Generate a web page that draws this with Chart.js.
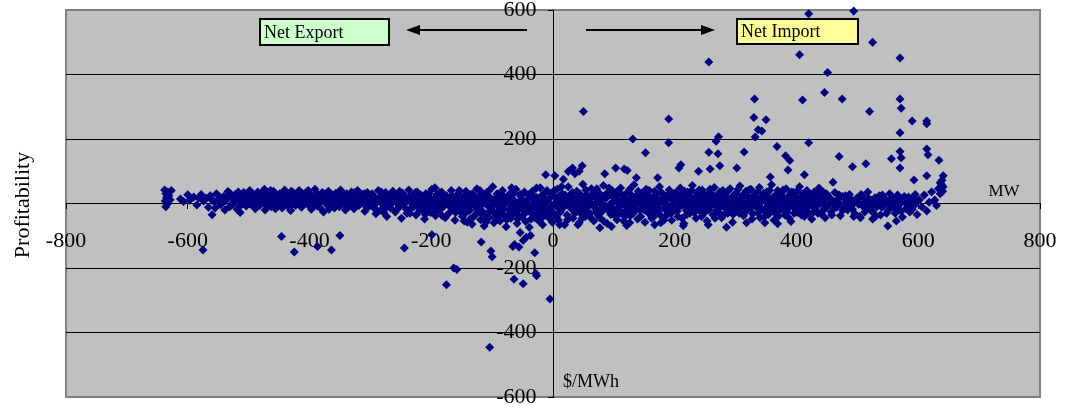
<!DOCTYPE html>
<html>
<head>
<meta charset="utf-8">
<script src="https://cdn.jsdelivr.net/npm/chart.js@4.4.1/dist/chart.umd.min.js"></script>
<style>
html,body{margin:0;padding:0;background:#fff;}
canvas{display:block;}
</style>
</head>
<body>
<canvas id="chart" width="1065" height="411"></canvas>
<script>
// -----------------------------
// DATA  [MW, $/MWh]
// -----------------------------

const xTicks = [-800,-600,-400,-200,0,200,400,600,800];
const yTicks = [-600,-400,-200,0,200,400,600];

// net export side, main band
const exportBand = [
[-638,42],[-636,30],[-635,18],[-637,8],[-634,-2],[-636,-10],[-633,36],[-631,24],[-629,12],[-627,40],
[-612,14],[-607,6],[-600,27],[-597,10],[-590,20],[-585,-5],[-582,18],[-578,28],[-574,8],[-570,16],
[-566,-12],[-563,24],[-557,6],[-553,30],[-549,14],[-546,-4],[-541,22],[-538,8],[-534,37],[-531,-10],
[-528,18],[-525,2],[-522,28],[-519,-18],[-516,12],[-511,20],[-508,34],[-505,4],
[-504,-8],[-502,26],[-500,12],[-498,40],[-497,-2],[-495,18],[-493,30],[-491,6],[-489,-16],[-487,22],
[-485,36],[-484,10],[-482,-6],[-480,28],[-478,16],[-476,2],[-474,44],[-473,-20],[-471,24],[-469,8],
[-467,32],[-465,14],[-463,-10],[-461,20],[-459,38],[-457,4],[-455,26],[-453,-4],[-451,16],[-449,30],
[-447,10],[-445,-14],[-443,22],[-441,42],[-439,0],[-437,18],[-435,28],[-433,6],[-431,-22],[-429,14],
[-427,34],[-425,20],[-423,-6],[-421,8],[-419,26],[-417,40],[-415,12],[-413,-12],[-411,2],[-409,24],
[-407,16],[-405,36],[-403,-2],[-401,10],[-399,30],[-397,-18],[-395,20],[-393,6],[-391,44],[-389,14],
[-387,-8],[-385,26],[-383,2],[-381,18],[-379,34],[-377,-26],[-375,10],[-373,22],[-371,-4],[-369,38],
[-367,12],[-365,28],[-363,0],[-361,16],[-359,-14],[-357,32],[-355,8],[-353,20],[-351,-10],[-349,42],
[-347,4],[-345,24],[-343,14],[-341,-20],[-339,30],[-337,10],[-335,-2],[-333,18],[-331,36],[-329,6],
[-327,-16],[-325,26],[-323,12],[-321,40],[-319,-6],[-317,20],[-315,2],[-313,28],[-311,16],[-309,-24],
[-307,8],[-305,34],[-303,22],[-301,-8],
[-299,10],[-297,30],[-295,-12],[-293,20],[-291,-32],[-289,4],[-287,40],[-285,16],[-283,-20],[-281,26],
[-279,-4],[-277,12],[-275,34],[-273,-40],[-271,8],[-269,22],[-267,-14],[-265,0],[-263,38],[-261,18],
[-259,-26],[-257,6],[-255,28],[-253,-8],[-251,14],[-249,-46],[-247,32],[-245,-2],[-243,20],[-241,-18],
[-239,10],[-237,42],[-235,-30],[-233,2],[-231,24],[-229,-10],[-227,16],[-225,-36],[-223,36],[-221,6],
[-219,-22],[-217,26],[-215,-4],[-213,12],[-211,-48],[-209,30],[-207,-14],[-205,4],[-203,20],[-201,-28],
[-199,44],[-197,-6],[-195,14],[-193,-38],[-191,28],[-189,0],[-187,-20],[-185,8],[-183,36],[-181,-12],
[-179,18],[-177,-44],[-175,24],[-173,-2],[-171,-30],[-169,10],[-167,40],[-165,-16],[-163,4],[-161,-52],
[-159,22],[-157,-8],[-155,32],[-153,-24],[-151,12],
[-149,-40],[-147,20],[-145,-10],[-143,38],[-141,-58],[-139,4],[-137,-22],[-135,28],[-133,-64],[-131,-4],
[-129,14],[-127,-34],[-125,46],[-123,-14],[-121,6],[-119,-50],[-117,24],[-115,-26],[-113,-70],[-111,10],
[-109,34],[-107,-8],[-105,-44],[-103,18],[-101,-18],[-99,52],[-97,-60],[-95,0],[-93,-30],[-91,26],
[-89,-12],[-87,-54],[-85,8],[-83,40],[-81,-36],[-79,-2],[-77,-72],[-75,16],[-73,-20],[-71,30],
[-69,-46],[-67,-6],[-65,12],[-63,-28],[-61,44],[-59,-62],[-57,2],[-55,-16],[-53,22],[-51,-40],
[-49,-8],[-47,36],[-45,-56],[-43,10],[-41,-24],[-39,-74],[-37,28],[-35,-4],[-33,-34],[-31,14],
[-29,-14],[-27,48],[-25,-50],[-23,4],[-21,-20],[-19,24],[-17,-66],[-15,-6],[-13,34],[-11,-30],
[-9,8],[-7,-44],[-5,18],[-3,-12],[-1,-58],
[-148,6],[-144,-30],[-140,18],[-136,-48],[-132,30],[-128,-6],[-124,-20],[-120,40],[-116,-2],[-112,-36],
[-108,20],[-104,-24],[-100,6],[-96,-42],[-92,30],[-88,-28],[-84,-4],[-80,20],[-76,-50],[-72,2],
[-68,-18],[-64,32],[-60,-10],[-56,-38],[-52,12],[-48,-22],[-44,-2],[-40,26],[-36,-48],[-32,-8],
[-28,20],[-24,-30],[-20,0],[-16,-40],[-12,14],[-8,-20],[-4,30],[-2,-6],
[-496,20],[-488,6],[-479,14],[-470,0],[-462,28],[-452,8],[-444,18],[-436,-2],[-428,24],[-418,6],
[-410,16],[-400,22],[-392,-4],[-384,12],[-376,30],[-366,4],[-358,20],[-348,10],[-340,-6],[-330,24],
[-320,12],[-312,4],[-302,18],[-294,0],[-284,14],[-276,-16],[-266,22],[-258,8],[-250,-6],[-242,16],
[-232,-12],[-224,10],[-214,-20],[-206,14],[-196,-10],[-188,22],[-180,-2],[-172,12],[-164,-18],[-156,6],
[-560,10],[-555,-14],[-551,26],[-544,2],[-539,-20],[-536,16],[-530,30],[-526,-2],[-521,10],[-517,36],
[-513,-6],[-509,14],[-506,24],[-501,0],[-494,32],[-490,-10],[-486,14],[-481,-2],[-477,36],[-472,18],
[-468,-8],[-464,40],[-460,6],[-456,-16],[-450,22],[-446,4],[-442,32],[-438,10],[-434,-12],[-430,38],
[-426,2],[-422,28],[-416,-4],[-412,32],[-406,2],[-402,40],[-398,12],[-394,-10],[-388,30],[-382,-14],
[-378,20],[-372,8],[-368,-18],[-362,26],[-356,-4],[-352,36],[-346,12],[-342,28],[-336,-10],[-332,2],
[-326,34],[-322,-4],[-316,10],[-310,30],[-306,-12],
[-298,24],[-292,-16],[-288,12],[-282,36],[-278,-28],[-272,16],[-268,-4],[-262,26],[-256,-18],[-252,38],
[-246,8],[-240,-30],[-236,22],[-230,-2],[-226,34],[-220,-12],[-216,2],[-210,-34],[-204,30],[-198,2],
[-192,-24],[-186,34],[-182,-38],[-176,10],[-170,-8],[-166,24],[-160,-28],[-154,40],[-150,-12],[-146,-54],
[-142,24],[-138,-12],[-134,12],[-130,-40],[-126,-10],[-122,22],[-118,-30],[-114,4],[-110,-58],[-106,38],
[-102,-8],[-98,-26],[-94,16],[-90,-46],[-86,24],[-82,-18],[-78,4],[-74,-38],[-70,14],[-66,-30],
[-62,0],[-58,-48],[-54,28],[-50,-4],[-46,-30],[-42,12],[-38,-18],[-34,38],[-30,-44],[-26,-2],
[-22,-56],[-18,6],[-14,-24],[-10,40],[-6,-34]
];

// net import side, main band
const importBand = [
[1,-30],[3,22],[5,-8],[7,44],[9,-52],[11,6],[13,-20],[15,30],[17,-4],[19,-66],
[21,14],[23,-36],[25,52],[27,0],[29,-14],[31,24],[33,-46],[35,8],[37,-26],[39,38],
[41,-6],[43,-60],[45,18],[47,-18],[49,60],[51,2],[53,-40],[55,28],[57,-10],[59,12],
[61,-30],[63,46],[65,-2],[67,-54],[69,20],[71,-16],[73,4],[75,34],[77,-44],[79,10],
[81,-24],[83,56],[85,-8],[87,16],[89,-62],[91,26],[93,-4],[95,-34],[97,40],[99,6],
[101,-20],[103,14],[105,-50],[107,30],[109,-10],[111,48],[113,0],[115,-28],[117,20],[119,-6],
[121,-68],[123,36],[125,8],[127,-38],[129,12],[131,-14],[133,58],[135,-2],[137,24],[139,-48],
[141,4],[143,-22],[145,32],[147,-8],[149,16],[151,-58],[153,44],[155,2],[157,-30],[159,22],
[161,-12],[163,8],[165,-42],[167,38],[169,-4],[171,14],[173,-24],[175,52],[177,-60],[179,6],
[181,28],[183,-16],[185,0],[187,-36],[189,18],[191,42],[193,-8],[195,-52],[197,10],[199,30],
[4,2],[10,-16],[16,12],[22,-2],[28,26],[34,-20],[40,4],[46,-32],[52,16],[58,-6],
[64,22],[70,-26],[76,8],[82,-12],[88,30],[94,-2],[100,18],[106,-16],[112,10],[118,-40],
[124,0],[130,24],[136,-18],[142,14],[148,-4],[154,20],[160,-28],[166,6],[172,-10],[178,34],
[184,-2],[190,-20],[196,12],
[201,-14],[203,20],[205,-40],[207,4],[209,48],[211,-6],[213,26],[215,-62],[217,12],[219,-22],
[221,36],[223,0],[225,-30],[227,16],[229,56],[231,-10],[233,8],[235,-46],[237,30],[239,-2],
[241,20],[243,-26],[245,42],[247,6],[249,-16],[251,24],[253,-54],[255,10],[257,34],[259,-8],
[261,14],[263,-36],[265,50],[267,2],[269,-20],[271,28],[273,-4],[275,18],[277,-44],[279,40],
[281,8],[283,-14],[285,22],[287,-30],[289,0],[291,46],[293,12],[295,-58],[297,26],[299,-6],
[301,32],[303,-22],[305,6],[307,54],[309,-12],[311,16],[313,-38],[315,2],[317,38],[319,-18],
[321,20],[323,-4],[325,44],[327,-48],[329,10],[331,28],[333,-10],[335,14],[337,-30],[339,50],
[341,4],[343,-16],[345,24],[347,-42],[349,8],[351,36],[353,-2],[355,18],[357,-26],[359,58],
[361,0],[363,-52],[365,22],[367,-8],[369,40],[371,12],[373,-20],[375,30],[377,-4],[379,16],
[381,-36],[383,46],[385,6],[387,-14],[389,26],[391,-56],[393,10],[395,34],[397,-6],[399,20],
[401,-28],[403,2],[405,52],[407,14],[409,-18],[411,30],[413,-40],[415,6],[417,40],[419,-10],
[421,22],[423,-2],[425,-48],[427,16],[429,36],[431,-14],[433,8],[435,-30],[437,48],[439,0],
[441,24],[443,-22],[445,12],[447,-44],[449,30],
[206,8],[214,-4],[222,14],[230,-16],[238,6],[246,20],[254,-8],[262,12],[270,-12],[278,4],
[286,16],[294,-10],[302,8],[310,22],[318,-6],[326,12],[334,-2],[342,18],[350,-14],[358,6],
[366,26],[374,-8],[382,10],[390,-2],[398,14],[406,-12],[414,20],[422,4],[430,-6],[438,14],[446,-2],
[451,-6],[454,18],[457,-26],[460,8],[463,34],[466,-12],[469,2],[472,-38],[475,22],[478,-4],
[481,12],[484,-20],[487,28],[490,-8],[493,6],[496,-32],[499,16],[502,-2],[505,-44],[508,24],
[511,4],[514,-16],[517,36],[520,-6],[523,10],[526,-28],[529,18],[532,-10],[535,2],[538,-36],
[541,26],[544,-4],[547,12],[550,-22],[553,30],[556,-12],[559,4],[562,-30],[565,18],[568,-6],
[571,8],[574,-42],[577,22],[580,-16],[583,2],[586,-26],[589,14],[592,-8],[595,28],[598,-34],
[456,4],[462,-14],[468,14],[474,-6],[480,24],[486,0],[492,-18],[498,10],[504,20],[510,-10],
[516,8],[522,-20],[528,4],[534,14],[540,-12],[546,6],[552,-2],[558,16],[564,-18],[570,2],
[576,10],[582,-12],[588,4],[594,-4],
[602,12],[606,-10],[610,26],[614,-23],[618,4],[622,36],[627,11],[630,-6],[633,46],[636,30],
[638,60],[640,38],[641,52],[639,72],[636,64],
[2,40],[6,-42],[8,18],[12,-26],[14,52],[18,-10],[20,26],[24,-50],[26,8],[30,-4],
[32,34],[36,-30],[38,14],[42,-16],[44,30],[48,-46],[50,-10],[54,42],[56,-24],[60,4],
[62,-44],[66,32],[68,-12],[72,46],[74,-36],[78,18],[80,-4],[84,-56],[86,26],[90,-20],
[92,48],[96,-10],[98,22],[102,-38],[104,36],[108,-2],[110,-30],[114,26],[116,-54],[120,8],
[122,-22],[126,44],[128,-14],[132,-30],[134,18],[138,0],[140,38],[144,-40],[146,6],[150,-20],
[152,26],[156,-10],[158,40],[162,-46],[164,18],[168,-22],[170,28],[174,2],[176,-36],[180,16],
[182,-52],[186,22],[188,-6],[192,30],[194,-30],[198,-10],
[202,34],[204,-24],[208,-8],[210,22],[212,-46],[216,38],[218,-2],[220,-34],[224,24],[226,-12],
[228,40],[232,-28],[234,18],[236,-14],[240,42],[242,-4],[244,-40],[248,28],[250,-26],[252,6],
[256,-20],[258,44],[260,-6],[264,24],[266,-46],[268,12],[272,-28],[274,36],[276,-10],[280,-36],
[282,26],[284,-4],[288,40],[290,-20],[292,8],[296,-34],[298,16],[300,-14],[304,44],[306,-30],
[308,10],[312,-6],[314,30],[316,-26],[320,2],[322,42],[324,-14],[328,-32],[330,22],[332,-4],
[336,36],[338,-12],[340,-44],[344,10],[346,32],[348,-24],[352,18],[354,-34],[356,40],[360,-12],
[362,20],[364,-28],[368,4],[370,-40],[372,32],[376,-16],[378,42],[380,-4],[384,-26],[386,20],
[388,-46],[392,36],[394,-10],[396,-30],[400,8],[402,40],[404,-20],[408,-36],[410,26],[412,-4],
[416,-22],[418,34],[420,-30],[424,28],[426,-8],[428,-26],[432,22],[434,-2],[436,34],[440,-32],
[442,10],[444,36],[448,-14],
[452,24],[458,-36],[464,-2],[470,26],[476,-22],[482,-6],[488,16],[494,-40],[500,2],[506,28],
[512,-26],[518,16],[524,-4],[530,-40],[536,24],[542,8],[548,-30],[554,12],[560,-8],[566,26],
[572,-24],[578,4],[584,20],[590,-18],[596,10]
];

// scattered high values
const upperPoints = [
[50,285],[131,200],[190,262],[256,439],[272,207],[331,324],[330,267],[337,229],[343,225],[350,260],
[332,206],[405,461],[420,588],[410,321],[446,344],[451,406],[475,324],[494,597],[520,285],[525,500],
[570,451],[570,324],[572,295],[570,219],[590,256],[614,256],[614,247],
[190,188],[152,157],[268,193],[256,159],[271,154],[314,160],[368,177],[382,148],[389,133],[420,188],
[470,146],[492,114],[514,123],[556,139],[570,161],[572,142],[570,110],[614,169],[616,151],[634,134],
[614,86],[641,86],[593,73],
[48,117],[32,110],[43,100],[3,86],[17,75],[85,92],[103,110],[117,107],[122,102],[210,120],
[207,110],[239,100],[302,110],[357,82],[413,89],[460,66],[25,99],[36,92],[137,80],[172,80],
[258,107],[274,117],[386,104],[-12,89],[-21,49],[-68,49],[-194,49]
];

// scattered low values
const lowerPoints = [
[-446,-102],[-425,-150],[-387,-133],[-364,-144],[-350,-99],[-575,-144],[-560,-35],[-514,-28],[-244,-138],[-199,-97],
[-175,-252],[-163,-200],[-158,-205],[-118,-119],[-102,-147],[-100,-165],[-104,-446],[-63,-127],[-56,-135],[-49,-115],
[-37,-99],[-30,-153],[-64,-235],[-49,-249],[-27,-224],[-5,-296],[-54,-90],[-44,-105],[-66,-133],[-28,-217],
[285,-74],[348,-60],[369,-63],[550,-70],[564,-54],[525,-48],[504,-40],[318,-60],[255,-66],[214,-69],
[167,-66],[126,-60],[96,-71],[77,-75],[41,-66],[11,-66]
];

// -----------------------------
// CHART
// -----------------------------

const serif = "'Liberation Serif', 'Times New Roman', serif";
const allPoints = exportBand.concat(importBand, upperPoints, lowerPoints).map(p => ({x:p[0], y:p[1]}));

function noPadding(s){
s.paddingLeft = 0;
s.paddingRight = 0;
s.paddingTop = 0;
s.paddingBottom = 0;
}

const frame = {
id:"frame",
beforeDraw(chart){
const {ctx, chartArea:a} = chart;
ctx.save();
ctx.fillStyle = "#c0c0c0";
ctx.fillRect(a.left, a.top, a.right-a.left, a.bottom-a.top);
ctx.strokeStyle = "#808080";
ctx.lineWidth = 2;
ctx.strokeRect(a.left, a.top, a.right-a.left, a.bottom-a.top);
ctx.restore();
},
afterDraw(chart){
const ctx = chart.ctx;
ctx.save();

// titles
ctx.fillStyle = "#000";
ctx.font = "22px " + serif;
ctx.textAlign = "center";
ctx.textBaseline = "middle";
ctx.save();
ctx.translate(23, 205);
ctx.rotate(-Math.PI/2);
ctx.fillText("Profitability", 0, 0);
ctx.restore();
ctx.font = "17px " + serif;
ctx.fillText("MW", 1004, 192);
ctx.textAlign = "left";
ctx.font = "18px " + serif;
ctx.fillText("$/MWh", 563, 382);

// note boxes
function note(x, y, w, h, fill, text){
ctx.fillStyle = fill;
ctx.fillRect(x, y, w, h);
ctx.strokeStyle = "#000";
ctx.lineWidth = 2;
ctx.strokeRect(x, y, w, h);
ctx.fillStyle = "#000";
ctx.font = "18px " + serif;
ctx.textAlign = "left";
ctx.textBaseline = "middle";
ctx.fillText(text, x + 4, y + h/2 + 1);
}
note(260, 19, 129, 26, "#ccffcc", "Net Export");
note(737, 19, 121, 25, "#ffff99", "Net Import");

// arrows
function arrow(x1, x2, y){
const dir = x2 > x1 ? 1 : -1;
ctx.strokeStyle = "#000";
ctx.lineWidth = 2;
ctx.beginPath();
ctx.moveTo(x1, y);
ctx.lineTo(x2 - dir*12, y);
ctx.stroke();
ctx.fillStyle = "#000";
ctx.beginPath();
ctx.moveTo(x2, y);
ctx.lineTo(x2 - dir*14, y - 5);
ctx.lineTo(x2 - dir*14, y + 5);
ctx.closePath();
ctx.fill();
}
arrow(527, 406, 30);
arrow(586, 715, 30);

ctx.restore();
}
};

new Chart(document.getElementById("chart"),{
type:"scatter",
data:{
datasets:[{
data:allPoints,
pointStyle:"rectRot",
pointRadius:4.5,
pointBorderWidth:0,
backgroundColor:"#000080",
borderColor:"#000080",
clip:false
}]
},
options:{
responsive:false,
animation:false,
events:[],
layout:{autoPadding:false, padding:{left:66, right:25, top:10, bottom:14}},
plugins:{legend:{display:false}, tooltip:{enabled:false}},
scales:{
x:{
type:"linear",
position:{y:0},
min:-800, max:800,
afterBuildTicks:s => { s.ticks = xTicks.map(v => ({value:v})); },
afterFit:s => { s.height = 0; noPadding(s); },
grid:{drawOnChartArea:false, drawTicks:true, tickLength:5, color:"#000", tickColor:"#000"},
border:{color:"#000", width:1},
ticks:{color:"#000", font:{family:serif, size:22}, padding:20, maxRotation:0, autoSkip:false}
},
y:{
type:"linear",
position:{x:0},
min:-600, max:600,
afterBuildTicks:s => { s.ticks = yTicks.map(v => ({value:v})); },
afterFit:s => { s.width = 0; noPadding(s); },
grid:{
color:c => (c.tick && Math.abs(c.tick.value) === 600) ? "rgba(0,0,0,0)" : "#000",
tickColor:"#000", tickLength:5, lineWidth:1
},
border:{color:"#000", width:1},
ticks:{color:"#000", font:{family:serif, size:22}, autoSkip:false, callback:v => v + "   "}
}
}
},
plugins:[frame]
});
</script>
</body>
</html>
